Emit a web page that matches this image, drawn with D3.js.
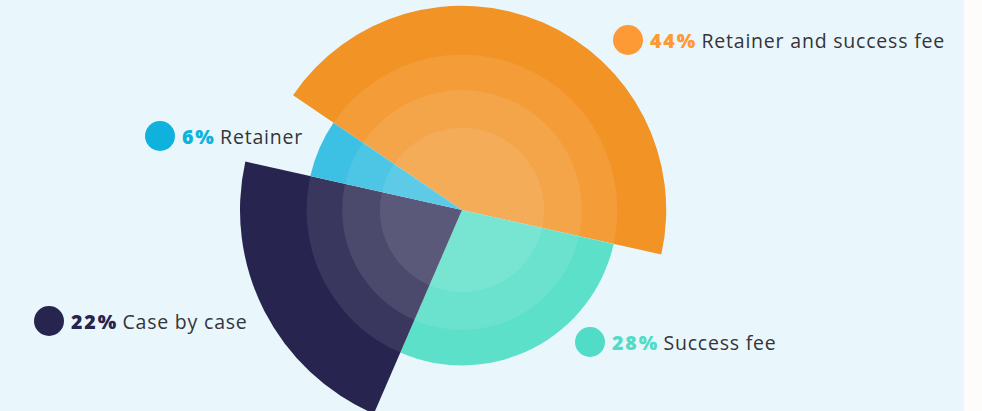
<!DOCTYPE html>
<html>
<head>
<meta charset="utf-8">
<script src="https://cdn.jsdelivr.net/npm/d3@7"></script>
<style>
  html, body { margin: 0; padding: 0; background: #fdfcfa; }
  svg { display: block; }
  .pct { font-weight: 800; letter-spacing: 1.9px; }
  .lbl { font-weight: 400; fill: #34343a; letter-spacing: 0.8px; }
</style>
</head>
<body>
<svg id="chart" width="982" height="411"></svg>
<script>
// data
var categories = ['Retainer and success fee', 'Success fee', 'Case by case', 'Retainer']
var shares = [44, 28, 22, 6]
// how far each wedge reaches, relative to the longest one
var reach = [0.92, 0.70, 1.0, 0.70]
var ringLevels = [0.70, 0.54, 0.37]
var sliceColors = ['#f29325', '#4eddc5', '#27244f', '#29bae1']
var dotColors = ['#fd9a35', '#50dcc6', '#27244f', '#0eb2dc']

var width = 982, height = 411
var cx = 462, cy = 210

var svg = d3.select('#chart')

svg.append('rect')
    .attr('width', 964)
    .attr('height', height)
    .style('fill', '#e9f7fc')

var radius = d3.scaleLinear().domain([0, 1]).range([0, 222])

var start = -55.8 * Math.PI / 180
var pie = d3.pie()
    .sort(null)
    .startAngle(start)
    .endAngle(start + 2 * Math.PI)

var slices = pie(shares)

var g = svg.append('g').attr('transform', 'translate(' + cx + ',' + cy + ')')

g.selectAll('.slice')
    .data(slices)
    .enter()
    .append('path')
    .attr('class', 'slice')
    .attr('d', function(d, i) {
        return d3.arc().innerRadius(0).outerRadius(radius(reach[i]))(d)
    })
    .style('fill', function(d, i) {
        return sliceColors[i]
    })

// lighter rings toward the centre
g.selectAll('.ring')
    .data(ringLevels)
    .enter()
    .append('circle')
    .attr('class', 'ring')
    .attr('r', function(d) {
        return radius(d)
    })
    .style('fill', '#ffffff')
    .style('fill-opacity', 0.09)

// legend, placed by hand next to each wedge
var legendPos = [
    { x: 628, y: 40 },
    { x: 590, y: 342 },
    { x: 49, y: 321 },
    { x: 160, y: 136 }
]

var legend = svg.selectAll('.legend')
    .data(categories)
    .enter()
    .append('g')
    .attr('class', 'legend')
    .attr('transform', function(d, i) {
        return 'translate(' + legendPos[i].x + ',' + legendPos[i].y + ')'
    })

legend.append('circle')
    .attr('r', 15)
    .style('fill', function(d, i) {
        return dotColors[i]
    })

var txt = legend.append('text')
    .attr('x', 22)
    .attr('y', 7.5)
    .style('font-family', '"Open Sans", sans-serif')
    .style('font-size', '19.5px')

txt.append('tspan')
    .attr('class', 'pct')
    .style('fill', function(d, i) {
        return dotColors[i]
    })
    .text(function(d, i) {
        return shares[i] + '%'
    })

txt.append('tspan')
    .attr('class', 'lbl')
    .attr('dx', -1.5)
    .text(function(d) {
        return ' ' + d
    })
</script>
</body>
</html>
